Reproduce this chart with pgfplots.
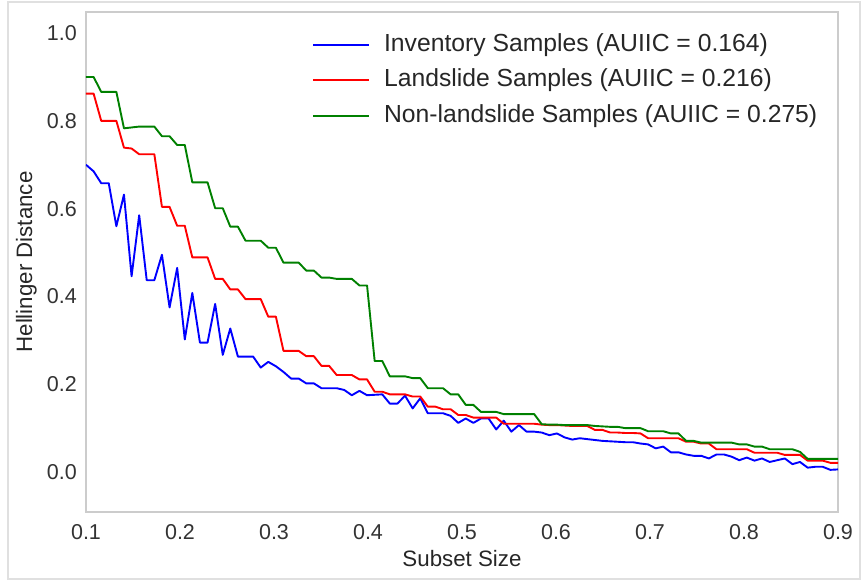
\documentclass[border=0pt]{standalone}
\usepackage{fontspec}
\setmainfont{Liberation Sans}
\usepackage{pgfplots}
\usepackage{pgfplotstable}
\pgfplotsset{compat=1.18}
\definecolor{mplgreen}{rgb}{0,0.5,0}
\pgfplotstableread{
x inv ls nls
0.1000 0.700 0.862 0.900
0.1081 0.685 0.862 0.900
0.1162 0.658 0.800 0.866
0.1242 0.658 0.800 0.866
0.1323 0.560 0.800 0.866
0.1404 0.632 0.739 0.783
0.1485 0.446 0.737 0.785
0.1566 0.585 0.724 0.787
0.1646 0.437 0.724 0.787
0.1727 0.437 0.724 0.787
0.1808 0.495 0.604 0.765
0.1889 0.375 0.604 0.765
0.1970 0.465 0.561 0.745
0.2051 0.302 0.561 0.745
0.2131 0.408 0.489 0.660
0.2212 0.295 0.489 0.660
0.2293 0.295 0.489 0.660
0.2374 0.383 0.440 0.601
0.2455 0.267 0.440 0.601
0.2535 0.327 0.416 0.559
0.2616 0.263 0.416 0.559
0.2697 0.263 0.394 0.527
0.2778 0.263 0.394 0.527
0.2859 0.238 0.394 0.527
0.2939 0.251 0.354 0.511
0.3020 0.241 0.354 0.511
0.3101 0.228 0.276 0.477
0.3182 0.213 0.276 0.477
0.3263 0.213 0.276 0.477
0.3343 0.202 0.264 0.459
0.3424 0.202 0.264 0.459
0.3505 0.191 0.242 0.443
0.3586 0.191 0.242 0.443
0.3667 0.191 0.221 0.440
0.3747 0.187 0.221 0.440
0.3828 0.175 0.221 0.440
0.3909 0.185 0.211 0.425
0.3990 0.175 0.211 0.425
0.4071 0.176 0.183 0.253
0.4152 0.177 0.183 0.253
0.4232 0.156 0.177 0.218
0.4313 0.156 0.177 0.218
0.4394 0.174 0.177 0.218
0.4475 0.145 0.172 0.214
0.4556 0.168 0.172 0.214
0.4636 0.134 0.149 0.191
0.4717 0.134 0.149 0.191
0.4798 0.134 0.143 0.191
0.4879 0.128 0.143 0.177
0.4960 0.112 0.130 0.177
0.5040 0.122 0.130 0.153
0.5121 0.112 0.124 0.153
0.5202 0.122 0.124 0.137
0.5283 0.122 0.124 0.137
0.5364 0.097 0.124 0.137
0.5444 0.117 0.110 0.132
0.5525 0.092 0.110 0.132
0.5606 0.107 0.110 0.132
0.5687 0.092 0.110 0.132
0.5768 0.092 0.110 0.132
0.5848 0.090 0.108 0.109
0.5929 0.084 0.107 0.108
0.6010 0.088 0.107 0.108
0.6091 0.079 0.106 0.107
0.6172 0.074 0.105 0.107
0.6253 0.077 0.105 0.107
0.6333 0.075 0.105 0.107
0.6414 0.073 0.096 0.105
0.6495 0.071 0.096 0.104
0.6576 0.070 0.090 0.103
0.6657 0.069 0.090 0.103
0.6737 0.068 0.089 0.100
0.6818 0.068 0.089 0.100
0.6899 0.065 0.088 0.100
0.6980 0.063 0.077 0.093
0.7061 0.054 0.077 0.093
0.7141 0.058 0.077 0.093
0.7222 0.045 0.077 0.088
0.7303 0.045 0.077 0.088
0.7384 0.040 0.069 0.071
0.7465 0.037 0.069 0.071
0.7545 0.037 0.065 0.067
0.7626 0.031 0.065 0.067
0.7707 0.040 0.052 0.067
0.7788 0.040 0.052 0.067
0.7869 0.035 0.052 0.067
0.7949 0.027 0.052 0.063
0.8030 0.033 0.052 0.063
0.8111 0.026 0.044 0.058
0.8192 0.031 0.044 0.058
0.8273 0.023 0.044 0.052
0.8354 0.027 0.044 0.052
0.8434 0.031 0.039 0.052
0.8515 0.018 0.039 0.052
0.8596 0.023 0.039 0.046
0.8677 0.010 0.026 0.030
0.8758 0.012 0.026 0.030
0.8838 0.012 0.026 0.030
0.8919 0.005 0.021 0.030
0.9000 0.006 0.021 0.030
}\data
\begin{document}
\begin{tikzpicture}
\path[use as bounding box] (-86pt,-69pt) rectangle (778pt,512pt);
\draw[black!12, line width=1.5pt] (-78pt,-67pt) rectangle (774pt,510pt);
\begin{axis}[
  scale only axis, width=752pt, height=500pt,
  xmin=0.1, xmax=0.9, ymin=-0.091, ymax=1.048,
  xtick={0.1,0.2,0.3,0.4,0.5,0.6,0.7,0.8,0.9},
  ytick={0,0.2,0.4,0.6,0.8,1.0},
  /pgf/number format/.cd, fixed, fixed zerofill, precision=1, assume math mode=true, /pgfplots/.cd,
  major tick length=0pt,
  tick label style={font=\fontsize{21.5}{25}\selectfont, text=black!80, inner sep=0pt},
  xticklabel style={anchor=north, yshift=-12pt},
  yticklabel style={anchor=east, xshift=-9pt},
  axis line style={draw=black!20, line width=1.8pt},
  xlabel={Subset Size}, ylabel={Hellinger Distance},
  label style={font=\fontsize{22.3}{26}\selectfont, text=black!85},
  xlabel style={at={(axis description cs:0.5,-0.108)}, anchor=base},
  ylabel style={at={(axis description cs:-0.0718,0.5)}, anchor=base},
  legend cell align=left,
  legend image code/.code={\draw[#1] (0pt,0pt) -- (56pt,0pt); \path[draw=none] (0pt,0pt) -- (71pt,0pt);},
  legend style={draw=none, fill=none, at={(axis description cs:0.3005,0.958)}, anchor=north west,
    inner sep=0pt, row sep=12.5pt, font=\fontsize{24.7}{29}\selectfont, text=black!85,
    nodes={inner sep=0pt, text height=18pt, text depth=5pt}},
]
\addplot[blue, line width=1.9pt, line join=round] table[x=x, y=inv] {\data};
\addlegendentry{Inventory Samples (AUIIC = 0.164)}
\addplot[red, line width=1.9pt, line join=round] table[x=x, y=ls] {\data};
\addlegendentry{Landslide Samples (AUIIC = 0.216)}
\addplot[mplgreen, line width=1.9pt, line join=round] table[x=x, y=nls] {\data};
\addlegendentry{Non-landslide Samples (AUIIC = 0.275)}
\end{axis}
\end{tikzpicture}
\end{document}
